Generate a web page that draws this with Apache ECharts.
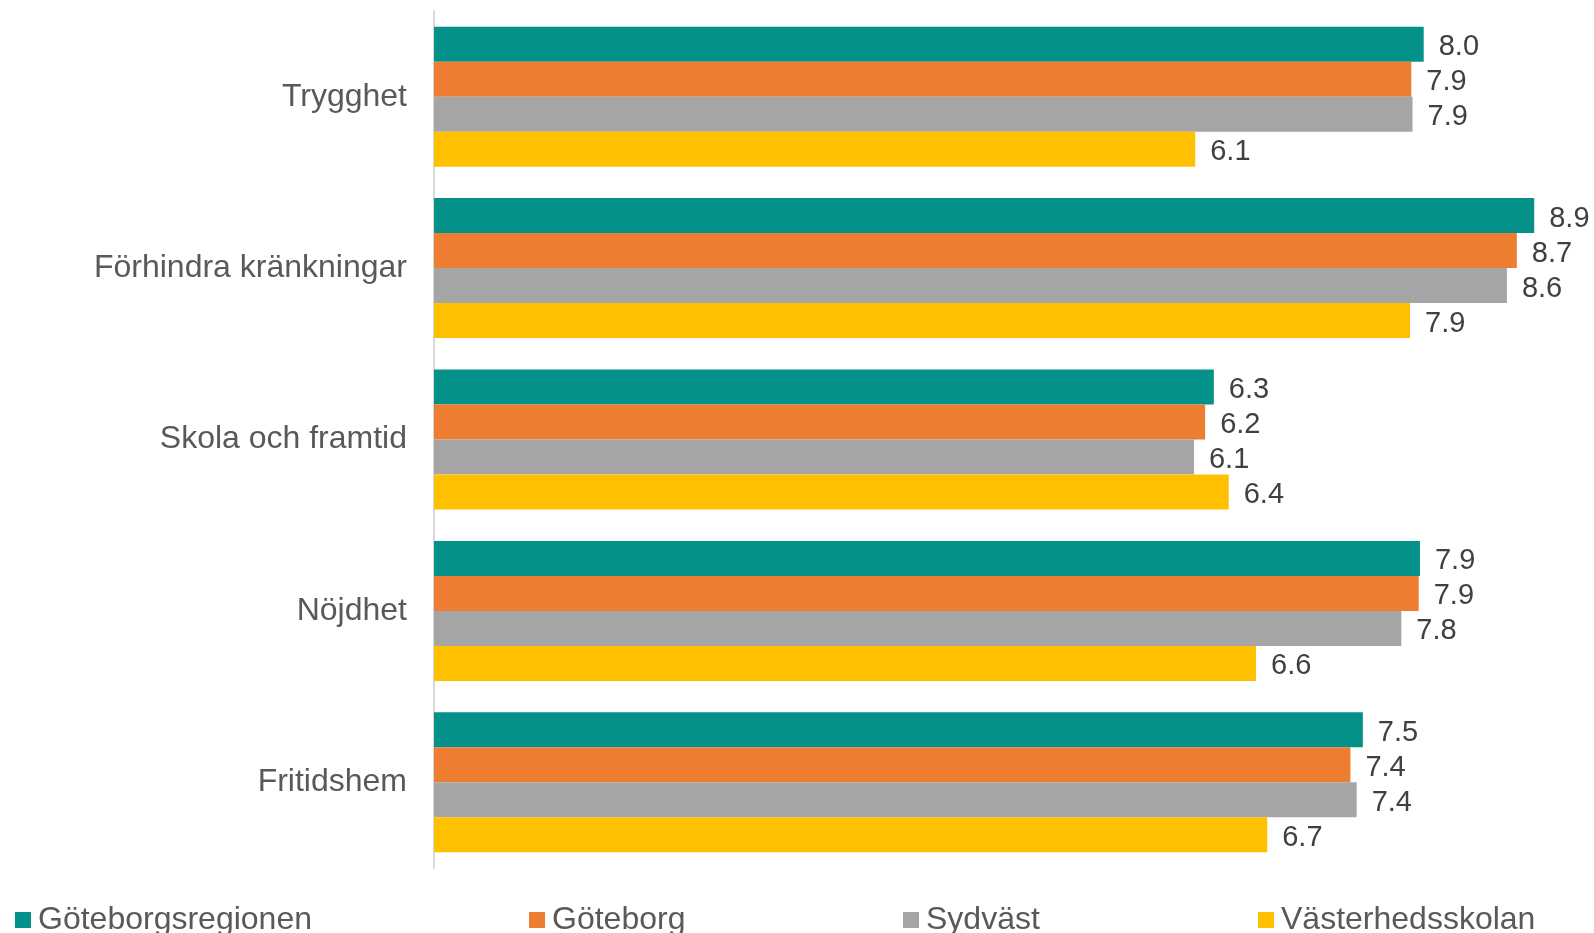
<!DOCTYPE html>
<html>
<head>
<meta charset="utf-8">
<script src="https://cdn.jsdelivr.net/npm/echarts@6/dist/echarts.min.js"></script>
<style>
html,body{margin:0;padding:0;background:#fff;}
#chart{width:1594px;height:933px;}
</style>
</head>
<body>
<div id="chart"></div>
<script>
const categories = ['Trygghet', 'Förhindra kränkningar', 'Skola och framtid', 'Nöjdhet', 'Fritidshem'];
const seriesNames = ['Göteborgsregionen', 'Göteborg', 'Sydväst', 'Västerhedsskolan'];
const goteborgsregionen = [7.97, 8.86, 6.28, 7.94, 7.48];
const goteborg = [7.87, 8.72, 6.21, 7.93, 7.38];
const sydvast = [7.88, 8.64, 6.12, 7.79, 7.43];
const vasterhedsskolan = [6.13, 7.86, 6.40, 6.62, 6.71];
const seriesValues = [goteborgsregionen, goteborg, sydvast, vasterhedsskolan];
const colors = ['#04918A', '#ED7D31', '#A5A5A5', '#FFC000'];
const legendLeft = [15, 529, 903, 1258];

const FONT = '"Liberation Sans", Arial, sans-serif';
const chart = echarts.init(document.getElementById('chart'));

const option = {
  animation: false,
  backgroundColor: '#ffffff',
  textStyle: { fontFamily: FONT },
  legend: seriesNames.map((n, i) => ({
    data: [n],
    left: legendLeft[i],
    top: 904,
    icon: 'rect',
    itemWidth: 16,
    itemHeight: 16,
    itemGap: 0,
    padding: 0,
    textStyle: { fontFamily: FONT, fontSize: 32, color: '#595959', padding: [3, 0, 0, 2] }
  })),
  grid: { left: 434, right: 42.4, top: 11, bottom: 65, containLabel: false },
  xAxis: {
    type: 'value', min: 0, max: 9,
    show: false,
    splitLine: { show: false }
  },
  yAxis: {
    type: 'category',
    data: categories,
    inverse: true,
    axisLine: { show: true, lineStyle: { color: '#D9D9D9', width: 2 } },
    axisTick: { show: false },
    axisLabel: { fontFamily: FONT, fontSize: 32, color: '#595959', margin: 27, padding: [6, 0, 0, 0] }
  },
  series: seriesNames.map((n, i) => ({
    name: n,
    type: 'bar',
    data: seriesValues[i],
    barGap: '0%',
    barCategoryGap: '18.3%',
    itemStyle: { color: colors[i] },
    label: {
      show: true,
      position: 'right',
      distance: 15,
      offset: [0, 3],
      fontFamily: FONT,
      fontSize: 29,
      color: '#404040',
      formatter: p => p.value.toFixed(1)
    }
  }))
};
chart.setOption(option);
</script>
</body>
</html>
